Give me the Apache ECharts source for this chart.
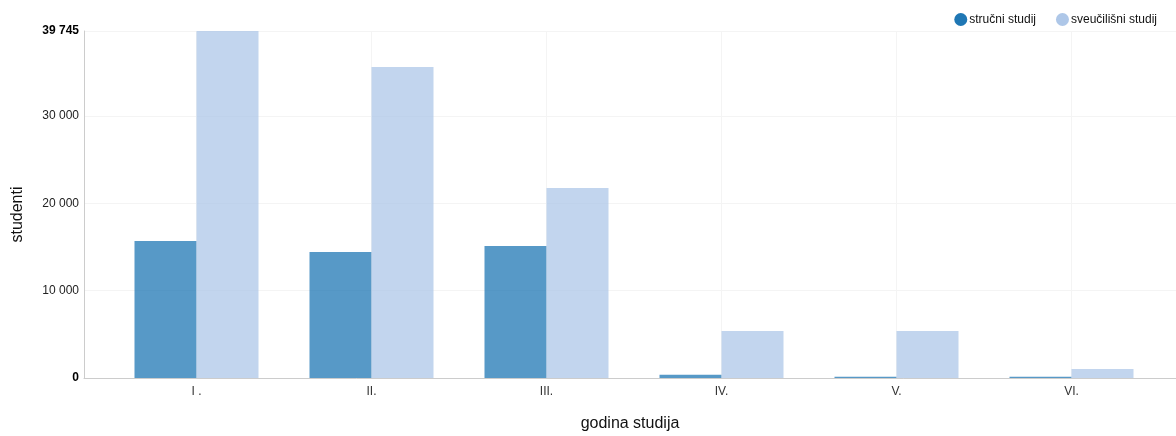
<!DOCTYPE html>
<html>
<head>
<meta charset="utf-8">
<script src="https://cdn.jsdelivr.net/npm/echarts@6/dist/echarts.min.js"></script>
<style>html,body{margin:0;padding:0;background:#fff}#c{width:1176px;height:436px}</style>
</head>
<body>
<div id="c"></div>
<script>
var categories = ['I .', 'II.', 'III.', 'IV.', 'V.', 'VI.'];
var strucni = [15700, 14430, 15120, 380, 150, 150];
var sveucilisni = [39745, 35620, 21770, 5380, 5380, 1030];
var yTicks = [0, 10000, 20000, 30000, 39745];
var yMax = 39745;
var seriesNames = ['stručni studij', 'sveučilišni studij'];
var colors = ['#1f77b4', '#aec7e8'];

function fmt(v) { return String(v).replace(/\B(?=(\d{3})+(?!\d))/g, ' '); }

var FONT = '"Liberation Sans", Arial, sans-serif';
var chart = echarts.init(document.getElementById('c'), null, {renderer: 'canvas'});
chart.setOption({
  animation: false,
  textStyle: {fontFamily: FONT},
  color: colors,
  legend: {
    right: 14, top: 8, icon: 'circle', itemWidth: 13, itemHeight: 13, itemGap: 20,
    textStyle: {fontFamily: FONT, fontSize: 12, color: '#111', padding: [0, 0, 0, -3]},
    data: [
      {name: seriesNames[0], itemStyle: {color: colors[0], opacity: 1}},
      {name: seriesNames[1], itemStyle: {color: colors[1], opacity: 1}}
    ]
  },
  grid: [
    {left: 84, right: 0, top: 31, bottom: 58, outerBoundsMode: 'none', containLabel: false},
    {left: 109, right: 17, top: 31, bottom: 58, outerBoundsMode: 'none', containLabel: false}
  ],
  xAxis: [
    {
      gridIndex: 0, type: 'value', min: 0, max: 1,
      axisLine: {show: true, lineStyle: {color: '#ccc', width: 1}},
      axisTick: {show: false}, axisLabel: {show: false}, splitLine: {show: false},
      name: 'godina studija', nameLocation: 'middle', nameGap: 38,
      nameTextStyle: {fontFamily: FONT, fontSize: 16, color: '#111'}
    },
    {
      gridIndex: 1, type: 'category', data: categories,
      axisLine: {show: false}, axisTick: {show: false, alignWithLabel: true},
      axisLabel: {fontFamily: FONT, fontSize: 12, color: '#333', margin: 8},
      splitLine: {show: true, alignWithLabel: true, lineStyle: {color: '#f4f4f4', width: 1}}
    }
  ],
  yAxis: [
    {
      gridIndex: 0, type: 'value', min: 0, max: yMax, interval: 10000,
      axisLine: {show: true, lineStyle: {color: '#ccc', width: 1}},
      axisTick: {show: false},
      axisLabel: {
        customValues: yTicks, margin: 5, fontFamily: FONT, fontSize: 12, color: '#222',
        formatter: function (v) {
          var s = fmt(v);
          return (v === 0 || v === yMax) ? '{b|' + s + '}' : s;
        },
        rich: {b: {fontFamily: FONT, fontSize: 12, fontWeight: 'bold', color: '#000'}}
      },
      splitLine: {show: true, lineStyle: {color: '#f4f4f4', width: 1}},
      name: 'studenti', nameLocation: 'middle', nameGap: 58, nameRotate: 90,
      nameTextStyle: {fontFamily: FONT, fontSize: 16, color: '#111', padding: [0, 20, 0, 0]}
    },
    {
      gridIndex: 1, type: 'value', min: 0, max: yMax, show: false, splitLine: {show: false}
    }
  ],
  series: [
    {
      name: seriesNames[0], type: 'bar', xAxisIndex: 1, yAxisIndex: 1,
      data: strucni, barWidth: 62, barGap: '0%',
      itemStyle: {color: colors[0], opacity: 0.75}
    },
    {
      name: seriesNames[1], type: 'bar', xAxisIndex: 1, yAxisIndex: 1,
      data: sveucilisni, barWidth: 62, barGap: '0%',
      itemStyle: {color: colors[1], opacity: 0.75}
    }
  ]
});
</script>
</body>
</html>
